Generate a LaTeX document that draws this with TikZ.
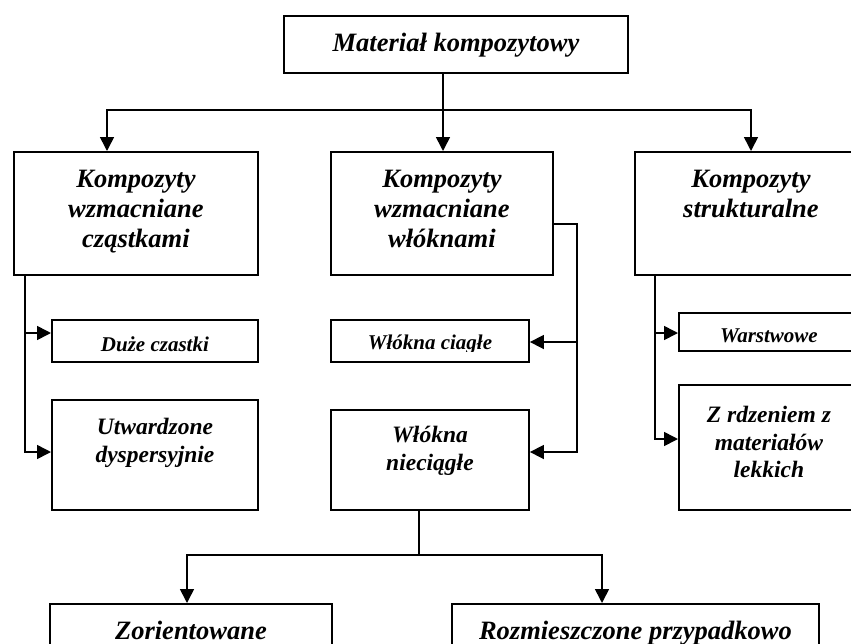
\documentclass[tikz,border=0pt]{standalone}
\usepackage{fontspec}
\setmainfont{Liberation Serif}
\usetikzlibrary{arrows.meta}
\newcommand\fbig{\bfseries\itshape\fontsize{26.5}{30}\selectfont}
\newcommand\fmid{\bfseries\itshape\fontsize{23.5}{27.5}\selectfont}
\newcommand\fsmall{\bfseries\itshape\fontsize{21}{24}\selectfont}
\tikzset{
  box/.style={draw, line width=1.9pt, anchor=north west, inner sep=0pt},
  txt/.style={anchor=north, align=center, inner xsep=0pt},
  arr/.style={line width=1.6pt, -{Triangle[length=14pt,width=14pt]}},
  ln/.style={line width=1.6pt},
}
\begin{document}
\begin{tikzpicture}[x=1pt,y=1pt,yscale=-1,xscale=1]
\useasboundingbox (0,0) rectangle (851,643);
%Shape: Rectangle [top]
\node[box, minimum width=344pt, minimum height=57pt] (mat) at (283,15) {};
\node[txt, inner ysep=18pt, font=\fbig] (mat-t) at (mat.north) {Materiał kompozytowy};
%Shape: Rectangle [row 1]
\node[box, minimum width=244pt, minimum height=123pt] (k1) at (13,151) {};
\node[box, minimum width=222pt, minimum height=123pt] (k2) at (330,151) {};
\node[box, minimum width=232pt, minimum height=123pt] (k3) at (634,151) {};
\node[txt, inner ysep=19pt, font=\fbig] (k1-t) at (k1.north) {Kompozyty\\wzmacniane\\cząstkami};
\node[txt, inner ysep=19pt, font=\fbig] (k2-t) at (k2.north) {Kompozyty\\wzmacniane\\włóknami};
\node[txt, inner ysep=19pt, font=\fbig] (k3-t) at (k3.north) {Kompozyty\\strukturalne};
%Shape: Rectangle [row 2]
\node[box, minimum width=206pt, minimum height=42pt] (duze) at (51,319) {};
\node[box, minimum width=198pt, minimum height=42pt] (ciagle) at (330,319) {};
\node[box, minimum width=180pt, minimum height=38pt] (warst) at (678,312) {};
\node[txt, inner ysep=17pt, font=\fsmall] (duze-t) at (duze.north) {Duże czastki};
\begin{scope}
\clip (ciagle.north west) rectangle (ciagle.east |- 0,351);
\node[txt, inner ysep=16pt, font=\fsmall] (ciagle-t) at (ciagle.north) {Włókna ciagłe};
\end{scope}
\begin{scope}
\clip (warst.north west) rectangle (warst.east |- 0,342);
\node[txt, inner ysep=17pt, font=\fsmall] (warst-t) at (warst.north) {Warstwowe};
\end{scope}
%Shape: Rectangle [row 3]
\node[box, minimum width=206pt, minimum height=110pt] (ut) at (51,399) {};
\node[box, minimum width=198pt, minimum height=100pt] (niec) at (330,409) {};
\node[box, minimum width=180pt, minimum height=125pt] (zrdz) at (678,384) {};
\node[txt, inner ysep=19pt, font=\fmid] (ut-t) at (ut.north) {Utwardzone\\dyspersyjnie};
\node[txt, inner ysep=17pt, font=\fmid] (niec-t) at (niec.north) {Włókna\\nieciągłe};
\node[txt, inner ysep=22pt, font=\fmid] (zrdz-t) at (zrdz.north) {Z rdzeniem z\\materiałów\\lekkich};
%Shape: Rectangle [row 4]
\node[box, minimum width=282pt, minimum height=80pt] (zor) at (49,603) {};
\node[box, minimum width=367pt, minimum height=80pt] (rozm) at (451,603) {};
\node[txt, inner ysep=18pt, font=\fbig] (zor-t) at (zor.north) {Zorientowane};
\node[txt, inner ysep=18pt, font=\fbig] (rozm-t) at (rozm.north) {Rozmieszczone przypadkowo};
%Straight Lines [top]
\coordinate (hub) at (443,110);
\coordinate (hl) at (107,110);
\coordinate (hr) at (751,110);
\draw[ln] (mat.south -| hub) -- (hub);
\draw[arr] (hub) -- (hub |- k2.north);
\draw[arr] (hub) -- (hl) -- (hl |- k1.north);
\draw[arr] (hub) -- (hr) -- (hr |- k3.north);
%Straight Lines [left]
\coordinate (s1) at (25,333);
\coordinate (s1b) at (25,452);
\draw[arr] (k1.south -| s1) -- (s1b) -- (s1b -| ut.west);
\draw[arr] (s1) -- (s1 -| duze.west);
%Straight Lines [middle]
\coordinate (s2t) at (577,224);
\coordinate (s2) at (577,342);
\coordinate (s2b) at (577,452);
\draw[arr] (s2t -| k2.east) -- (s2t) -- (s2b) -- (s2b -| niec.east);
\draw[arr] (s2) -- (s2 -| ciagle.east);
%Straight Lines [right]
\coordinate (s3) at (655,333);
\coordinate (s3b) at (655,439);
\draw[arr] (k3.south -| s3) -- (s3b) -- (s3b -| zrdz.west);
\draw[arr] (s3) -- (s3 -| warst.west);
%Straight Lines [bottom]
\coordinate (hb) at (419,555);
\coordinate (bl) at (187,555);
\coordinate (br) at (602,555);
\draw[ln] (niec.south -| hb) -- (hb);
\draw[arr] (hb) -- (bl) -- (bl |- zor.north);
\draw[arr] (hb) -- (br) -- (br |- rozm.north);
\end{tikzpicture}
\end{document}
